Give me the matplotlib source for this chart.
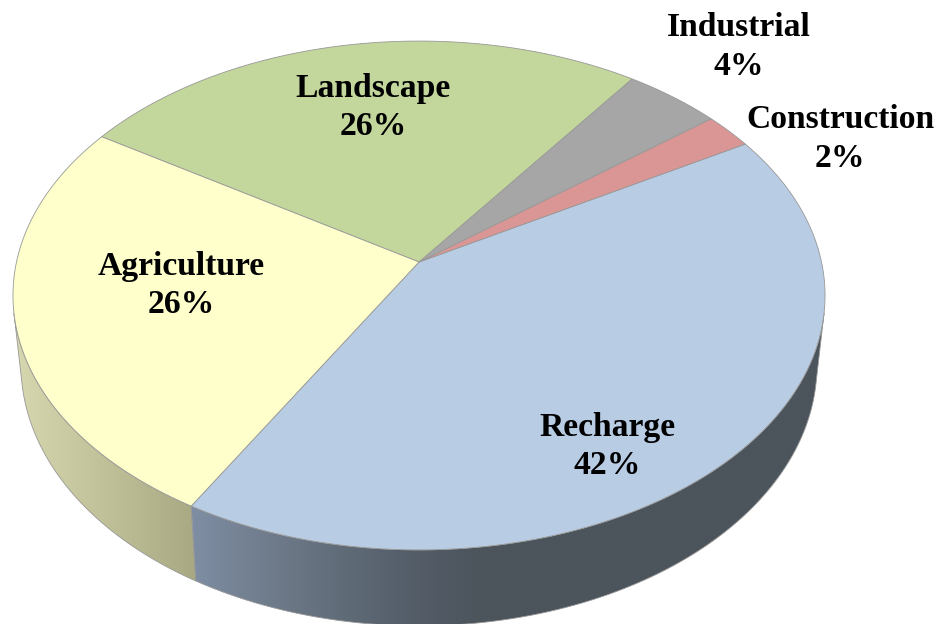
"""Water use pie, drawn by hand because the reference has a perspective 3D look."""
import numpy as np
import matplotlib
matplotlib.use("Agg")
import matplotlib.pyplot as plt
from matplotlib.colors import LinearSegmentedColormap
from matplotlib.patches import Polygon

categories = ["Recharge", "Construction", "Industrial", "Landscape", "Agriculture"]
shares = [41.75, 2.25, 4.4, 25.95, 25.65]
colors = ["#B8CCE4", "#D99694", "#A6A6A6", "#C3D69B", "#FFFFCC"]
label_xy = [(607, 446.5), (840, 139), (739, 47), (373, 107.5), (181, 285.5)]

START_DEG = -120.1
CX = 419
PERSP = 0.1316
SIDE_DEG = 11.5  # where the wall outline leaves the top ellipse
EDGE = "#989898"

plt.rcParams["font.family"] = ["Liberation Serif", "DejaVu Serif"]


def project(t_deg, apex_y, a, b):
    """Unit circle angle to picture pixels, with perspective towards the back."""
    t = np.radians(t_deg)
    w = 1 + PERSP * np.sin(t)
    return CX + a * np.cos(t) / w, apex_y - b * np.sin(t) / w


def top(t):
    return project(t, 262, 402.5, 250)


def bottom(t):
    return project(t, 331, 394.5, 256)


def wall(ax, t0, t1, x0, x1, stops):
    ts = np.linspace(t0, t1, 200)
    tx, ty = top(ts)
    bx, by = bottom(ts[::-1])
    pts = np.column_stack([np.r_[tx, bx], np.r_[ty, by]])
    poly = Polygon(pts, closed=True, fc="none", ec=EDGE, lw=0.6, zorder=2)
    ax.add_patch(poly)
    cmap = LinearSegmentedColormap.from_list("wall", stops)
    im = ax.imshow(np.linspace(0, 1, 512)[None, :], cmap=cmap, aspect="auto",
                   extent=(x0, x1, 624, 0), zorder=1, interpolation="bilinear")
    im.set_clip_path(poly)


fig = plt.figure(figsize=(9.39, 6.24), dpi=100)
ax = fig.add_axes([0, 0, 1, 1])

edges = START_DEG + np.r_[0, np.cumsum(shares)] * 3.6

# side walls first, only the part in front of the side tangents is visible
wall(ax, max(edges[4], 180 + SIDE_DEG), edges[5], 13, 205, [(0, "#D8D8B0"), (1, "#A6A680")])
wall(ax, edges[0], min(edges[1], -SIDE_DEG), 185, 825,
     [(0, "#808FA5"), (0.17, "#6A7684"), (0.33, "#56606C"), (0.46, "#4C545C"), (1, "#4C545C")])

for i, name in enumerate(categories):
    ts = np.linspace(edges[i], edges[i + 1], 200)
    x, y = top(ts)
    pts = np.column_stack([np.r_[CX, x], np.r_[262, y]])
    ax.add_patch(Polygon(pts, closed=True, fc=colors[i], ec=EDGE, lw=0.6, zorder=3))
    ax.text(label_xy[i][0], label_xy[i][1], f"{name}\n{shares[i]:.0f}%", ha="center", va="center",
            fontsize=24.2, fontweight="bold", color="black", linespacing=1.32, zorder=4)

ax.set_xlim(0, 939)
ax.set_ylim(624, 0)
ax.axis("off")

fig.savefig("out.png", dpi=100, facecolor="white")
